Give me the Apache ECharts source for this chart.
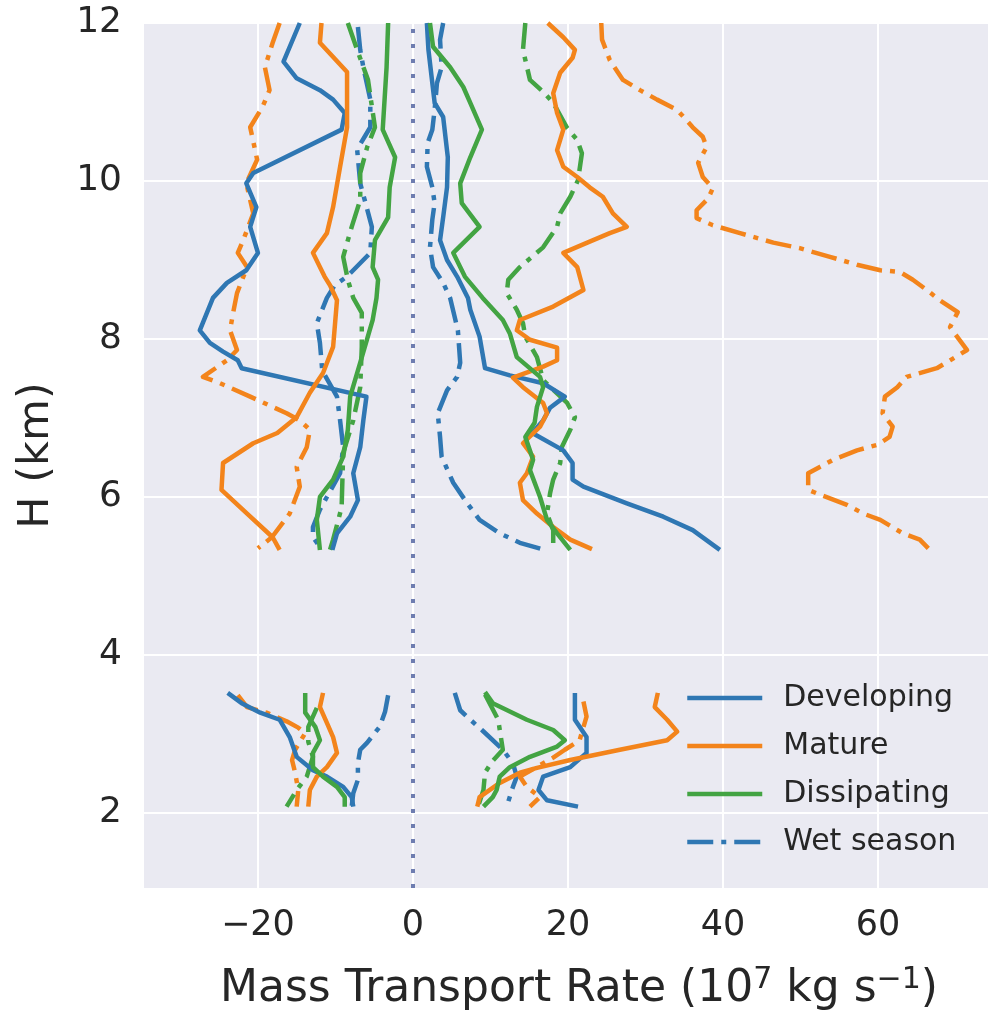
<!DOCTYPE html>
<html>
<head>
<meta charset="utf-8">
<script src="https://cdn.jsdelivr.net/npm/echarts@6/dist/echarts.min.js"></script>
<style>
html,body{margin:0;padding:0;background:#fff;}
#c{width:989px;height:1022px;}
</style>
</head>
<body>
<div id="c"></div>
<script>
// ---- tick labels ----
const xTicks = [-20, 0, 20, 40, 60];
const yTicks = [2, 4, 6, 8, 10, 12];
const legendNames = ['Developing', 'Mature', 'Dissipating', 'Wet season'];

// ---- data: [mass transport rate (1e7 kg/s), height (km)] ----
// Developing (solid blue)
const devDownHigh = [[-14.6,12],[-16.7,11.51],[-15.0,11.3],[-12.0,11.15],[-10.3,11.03],[-8.8,10.86],[-9.2,10.65],[-20.6,10.1],[-21.5,9.97],[-20.2,9.67],[-21.0,9.42],[-20.0,9.09],[-21.5,8.87],[-24.0,8.71],[-25.8,8.52],[-27.5,8.11],[-26.2,7.95],[-24.5,7.84],[-22.6,7.73],[-22.1,7.63],[-6.0,7.27],[-6.4,6.97],[-6.8,6.63],[-7.7,6.30],[-7.1,5.96],[-8.1,5.75],[-9.8,5.54],[-10.4,5.33]];
const devDownLow = [[-23.9,3.52],[-22.1,3.39],[-19.7,3.27],[-17.2,3.18],[-15.9,2.96],[-15.0,2.71],[-12.9,2.54],[-11.1,2.46],[-9.0,2.33],[-7.9,2.20],[-7.7,2.08]];
const devUpHigh = [[1.8,12],[2.0,11.66],[2.5,11.24],[2.8,10.99],[3.9,10.81],[4.5,10.30],[4.4,9.92],[3.9,9.54],[3.5,9.25],[4.4,9.0],[5.7,8.79],[7.1,8.52],[7.4,8.37],[8.6,8.03],[9.3,7.63],[12.5,7.54],[16.8,7.44],[19.6,7.27],[17.7,7.13],[16.8,6.97],[15.4,6.81],[19.4,6.59],[20.6,6.43],[20.6,6.22],[22.0,6.13],[27.6,5.92],[32.3,5.75],[36.1,5.58],[39.6,5.33]];
const devUpLow = [[20.9,3.52],[20.9,3.18],[22.4,2.96],[22.4,2.76],[20.3,2.58],[16.8,2.46],[16.2,2.29],[17.3,2.16],[21.3,2.08]];

// Mature (solid orange)
const matDownHigh = [[-11.8,12],[-12.0,11.75],[-8.5,11.38],[-8.5,10.68],[-9.4,10.18],[-10.3,9.67],[-11.1,9.34],[-12.9,9.09],[-11.4,8.79],[-10.7,8.68],[-9.8,8.49],[-10.3,7.90],[-11.6,7.57],[-13.3,7.32],[-15.0,7.01],[-17.5,6.81],[-20.6,6.68],[-24.5,6.43],[-24.7,6.09],[-21.4,5.79],[-18.1,5.49],[-17.2,5.33]];
const matDownLow = [[-11.6,3.52],[-12.0,3.34],[-11.1,3.14],[-10.3,2.96],[-9.8,2.76],[-11.1,2.58],[-12.4,2.46],[-13.3,2.29],[-13.5,2.08]];
const matUpHigh = [[17.4,12],[19.4,11.82],[20.9,11.66],[20.6,11.56],[19.0,11.37],[18.1,11.11],[18.6,10.86],[19.4,10.65],[18.6,10.39],[19.4,10.18],[21.2,10.05],[22.8,9.92],[24.5,9.8],[25.8,9.59],[27.6,9.42],[25.4,9.34],[22.5,9.22],[19.4,9.09],[21.2,8.91],[22.0,8.62],[18.1,8.41],[13.8,8.24],[13.4,8.11],[15.1,7.99],[18.6,7.89],[18.6,7.73],[16.8,7.65],[12.9,7.51],[14.2,7.39],[16.8,7.19],[17.3,7.06],[16.4,6.89],[14.2,6.68],[15.5,6.51],[14.7,6.30],[13.8,6.18],[14.2,5.96],[16.0,5.79],[18.1,5.62],[20.3,5.46],[23.1,5.34]];
const matUpLow = [[31.6,3.52],[31.2,3.34],[32.8,3.18],[34.1,3.03],[32.8,2.92],[26.7,2.80],[20.3,2.67],[16.0,2.57],[13.8,2.51],[11.2,2.38],[8.6,2.20],[8.3,2.08]];

// Dissipating (solid green)
const disDownHigh = [[-3.2,12],[-3.4,11.44],[-3.9,10.65],[-2.3,10.3],[-3.0,9.92],[-3.2,9.54],[-4.9,9.25],[-5.2,8.91],[-4.5,8.75],[-4.7,8.52],[-5.2,8.24],[-6.8,7.70],[-8.1,7.27],[-8.4,6.85],[-9.0,6.51],[-10.3,6.22],[-12.0,6.0],[-12.4,5.71],[-12.0,5.33]];
const disDownLow = [[-13.9,3.52],[-13.9,3.27],[-12.6,3.09],[-12.0,2.92],[-12.9,2.76],[-12.9,2.58],[-11.6,2.46],[-9.8,2.33],[-8.8,2.20],[-8.8,2.08]];
const disUpHigh = [[2.2,12],[2.6,11.7],[4.8,11.44],[6.5,11.19],[7.4,10.99],[8.9,10.65],[7.4,10.3],[6.1,9.97],[6.3,9.72],[8.6,9.42],[5.2,9.09],[6.7,8.79],[9.0,8.52],[11.6,8.24],[12.5,8.07],[13.4,7.77],[16.4,7.52],[16.8,7.39],[16.0,7.14],[15.7,6.94],[14.5,6.76],[15.5,6.47],[15.1,6.34],[16.4,6.0],[17.3,5.71],[18.6,5.54],[20.3,5.33]];
const disUpLow = [[9.3,3.53],[10.3,3.39],[14.7,3.18],[18.1,3.05],[19.6,2.92],[18.6,2.84],[15.1,2.71],[12.5,2.58],[11.2,2.46],[10.8,2.29],[10.3,2.20],[9.1,2.08]];

// Wet season (dash-dot) — blue
const wetDevDownHigh = [[-7.1,11.95],[-6.8,11.66],[-6.4,11.44],[-5.5,11.03],[-5.5,10.68],[-7.2,10.4],[-6.8,9.97],[-5.3,9.42],[-5.5,9.09],[-8.5,8.79],[-10.1,8.68],[-11.1,8.52],[-12.4,8.2],[-12.0,7.95],[-11.7,7.6],[-9.8,7.27],[-9.4,6.97],[-9.0,6.63],[-9.4,6.30],[-11.1,6.0],[-12.0,5.84],[-12.9,5.62],[-12.9,5.49],[-12.0,5.37]];
const wetDevDownLow = [[-3.2,3.49],[-3.6,3.28],[-4.3,3.09],[-5.9,2.89],[-6.8,2.80],[-7.1,2.63],[-7.1,2.42],[-7.7,2.25],[-7.9,2.08]];
const wetDevUpHigh = [[3.9,12],[3.5,11.79],[3.7,11.44],[3.1,11.24],[2.8,10.9],[2.5,10.65],[1.9,10.48],[1.8,10.18],[2.5,9.92],[2.8,9.72],[2.5,9.51],[2.2,9.16],[2.6,8.91],[3.9,8.71],[4.8,8.52],[5.8,8.11],[6.1,7.70],[5.7,7.52],[4.4,7.35],[3.2,7.06],[3.5,6.76],[3.7,6.51],[5.2,6.18],[7.0,5.92],[8.6,5.71],[11.2,5.54],[13.8,5.42],[16.6,5.34]];
const wetDevUpLow = [[5.4,3.52],[6.1,3.30],[7.4,3.18],[8.9,3.05],[11.6,2.80],[12.9,2.63],[13.4,2.46],[12.9,2.33],[12.1,2.08]];

// Wet season (dash-dot) — orange
const wetMatDownHigh = [[-17.2,12],[-18.1,11.75],[-19.1,11.44],[-18.5,11.15],[-19.4,10.94],[-21.0,10.68],[-20.6,10.5],[-20.1,10.27],[-21.5,9.97],[-20.6,9.59],[-21.9,9.25],[-22.6,9.09],[-21.4,8.91],[-22.7,8.58],[-23.2,8.33],[-23.6,8.11],[-22.7,7.86],[-24.0,7.73],[-27.1,7.52],[-24.9,7.44],[-21.0,7.27],[-16.3,7.06],[-14.6,6.97],[-13.3,6.85],[-13.7,6.63],[-15.0,6.38],[-14.6,6.13],[-15.9,5.79],[-18.2,5.49],[-20.0,5.35]];
const wetMatDownLow = [[-22.6,3.49],[-21.4,3.34],[-18.9,3.27],[-16.3,3.16],[-14.8,3.08],[-13.9,3.01],[-15.2,2.80],[-15.6,2.67],[-15.2,2.51],[-14.8,2.29],[-15.0,2.08]];
const wetMatUpHigh = [[24.3,12],[24.4,11.79],[25.4,11.53],[27.1,11.28],[29.3,11.15],[31.5,11.03],[34.1,10.9],[36.1,10.68],[37.4,10.56],[37.9,10.43],[36.8,10.23],[37.4,10.05],[38.7,9.91],[38.1,9.78],[36.6,9.63],[36.6,9.53],[38.7,9.44],[42.2,9.34],[46.5,9.22],[49.9,9.15],[53.8,9.04],[57.3,8.94],[60.3,8.87],[62.8,8.85],[64.5,8.75],[66.3,8.62],[68.0,8.49],[70.3,8.34],[69.3,8.15],[71.5,7.86],[69.3,7.73],[67.6,7.63],[63.7,7.52],[62.5,7.39],[60.9,7.27],[60.6,7.06],[61.9,6.89],[61.5,6.76],[59.9,6.66],[57.3,6.59],[54.2,6.47],[52.5,6.38],[51.0,6.30],[51.0,6.09],[52.5,6.03],[56.0,5.90],[58.1,5.79],[60.3,5.71],[63.2,5.54],[65.4,5.46],[66.5,5.35]];
const wetMatUpLow = [[22.0,3.41],[22.4,3.22],[21.5,2.92],[19.6,2.80],[18.1,2.70],[13.8,2.46],[14.7,2.33],[16.4,2.20],[15.1,2.08]];

// Wet season (dash-dot) — green
const wetDisDownHigh = [[-8.4,12],[-7.2,11.66],[-5.8,11.28],[-4.9,10.68],[-5.9,10.43],[-6.8,10.1],[-6.8,9.76],[-7.9,9.42],[-9.0,9.04],[-8.4,8.75],[-7.7,8.52],[-6.6,8.33],[-6.6,7.9],[-6.8,7.39],[-7.7,6.97],[-9.0,6.56],[-9.2,5.87],[-10.3,5.46],[-10.7,5.33]];
const wetDisDownLow = [[-12.4,3.33],[-13.5,3.09],[-13.5,2.90],[-12.9,2.71],[-13.7,2.46],[-15.0,2.29],[-16.3,2.08]];
const wetDisUpHigh = [[14.5,12],[14.2,11.66],[15.1,11.28],[16.8,11.13],[18.1,10.99],[19.9,10.67],[21.2,10.52],[21.8,10.35],[21.3,10.01],[20.3,9.8],[19.0,9.59],[18.6,9.42],[16.8,9.16],[13.8,8.91],[12.3,8.75],[12.1,8.58],[13.4,8.37],[14.2,8.2],[14.5,8.03],[16.0,7.77],[16.8,7.48],[19.9,7.19],[20.9,7.01],[20.3,6.85],[19.2,6.63],[19.0,6.43],[18.1,6.22],[17.7,6.05],[17.3,5.79],[18.1,5.58],[18.1,5.33]];
const wetDisUpLow = [[9.3,3.50],[11.0,3.18],[11.6,2.80],[10.2,2.65],[9.3,2.51],[9.1,2.29],[8.4,2.08]];

// ---- styling ----
const FONT = 'DejaVu Sans';
const TXT = '#262626';
const BLUE = '#2f77b3', ORANGE = '#f3841b', GREEN = '#43a443';
const DASHDOT = [26, 8, 5, 8];
const LW = 4.5;

const specs = [
  {name: 'Wet season', color: BLUE, dash: true, sets: [wetDevDownHigh, wetDevDownLow, wetDevUpHigh, wetDevUpLow]},
  {name: 'Wet season (mature)', color: ORANGE, dash: true, sets: [wetMatDownHigh, wetMatDownLow, wetMatUpHigh, wetMatUpLow]},
  {name: 'Wet season (dissipating)', color: GREEN, dash: true, sets: [wetDisDownHigh, wetDisDownLow, wetDisUpHigh, wetDisUpLow]},
  {name: 'Developing', color: BLUE, dash: false, sets: [devDownHigh, devDownLow, devUpHigh, devUpLow]},
  {name: 'Mature', color: ORANGE, dash: false, sets: [matDownHigh, matDownLow, matUpHigh, matUpLow]},
  {name: 'Dissipating', color: GREEN, dash: false, sets: [disDownHigh, disDownLow, disUpHigh, disUpLow]}
];

const series = [];
specs.forEach(s => {
  s.sets.forEach(d => {
    series.push({
      type: 'line', name: s.name, data: d, symbol: 'none', showSymbol: false,
      clip: true, silent: true,
      color: s.color,
      lineStyle: {color: s.color, width: LW, type: s.dash ? DASHDOT : 'solid', cap: 'butt', join: 'round'}
    });
  });
});
// zero reference line
series[0].markLine = {
  symbol: 'none', silent: true, label: {show: false}, animation: false,
  lineStyle: {color: '#6e7db0', width: 4, type: [4, 11]},
  data: [{xAxis: 0}]
};

const chart = echarts.init(document.getElementById('c'), null, {renderer: 'canvas'});
chart.setOption({
  animation: false,
  backgroundColor: '#ffffff',
  grid: {left: 144, right: 1, top: 23, bottom: 134, containLabel: false,
         show: true, backgroundColor: '#EAEAF2', borderWidth: 0},
  xAxis: {
    type: 'value', min: -34.7, max: 74.2,
    axisLine: {show: false},
    axisTick: {show: false, customValues: xTicks},
    axisLabel: {customValues: xTicks, fontFamily: FONT, fontSize: 35, color: TXT, margin: 20,
                formatter: v => (v < 0 ? '\u2212' + Math.abs(v) : String(v))},
    splitLine: {show: true, lineStyle: {color: '#ffffff', width: 2}},
    name: 'Mass Transport Rate (10{sup|7} kg s{sup|\u22121})',
    nameLocation: 'middle', nameGap: 77,
    nameTextStyle: {fontFamily: FONT, fontSize: 44, color: TXT, padding: [0, 0, 0, 26],
      rich: {sup: {fontFamily: FONT, fontSize: 30, color: TXT, verticalAlign: 'top', lineHeight: 50}}}
  },
  yAxis: {
    type: 'value', min: 1.05, max: 12,
    axisLine: {show: false},
    axisTick: {show: false, customValues: yTicks},
    axisLabel: {customValues: yTicks, fontFamily: FONT, fontSize: 36, color: TXT, margin: 22},
    splitLine: {show: true, lineStyle: {color: '#ffffff', width: 2}},
    name: 'H (km)', nameLocation: 'middle', nameRotate: 90, nameGap: 86,
    nameTextStyle: {fontFamily: FONT, fontSize: 43, color: TXT}
  },
  legend: {
    data: legendNames, orient: 'vertical', left: 680, top: 678,
    itemWidth: 75, itemHeight: 30, itemGap: 18,
    itemStyle: {color: 'rgba(0,0,0,0)', borderColor: 'rgba(0,0,0,0)', borderWidth: 0},
    lineStyle: {width: LW},
    textStyle: {fontFamily: FONT, fontSize: 30, color: TXT, lineHeight: 30, padding: [0, 0, 0, 16]},
    selectedMode: false
  },
  series: series
});
</script>
</body>
</html>
